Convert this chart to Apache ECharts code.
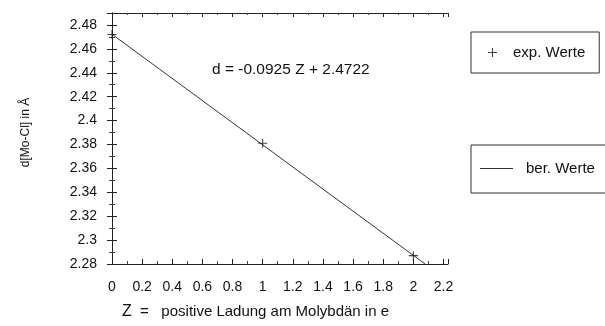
<!DOCTYPE html>
<html>
<head>
<meta charset="utf-8">
<script src="https://cdn.jsdelivr.net/npm/echarts@6/dist/echarts.min.js"></script>
<style>
  html, body { margin: 0; padding: 0; background: #fff; }
  #chart { width: 605px; height: 326px; }
</style>
</head>
<body>
<div id="chart"></div>
<script>
// measured values (Z in e, d in Angstrom)
var expZ = [0, 1, 2];
var expD = [2.472, 2.381, 2.287];
// regression line d = -0.0925 Z + 2.4722, drawn until it meets the bottom axis
var fitZ = [0, 2.078];
var fitD = [2.4722, 2.28];

var font = 'Liberation Sans, Arial, sans-serif';
var plusShape = 'path://M4.4,0 H5.6 V4.4 H10 V5.6 H5.6 V10 H4.4 V5.6 H0 V4.4 H4.4 Z';

function pairs(xs, ys) {
    var out = [];
    for (var i = 0; i < xs.length; i++) out.push([xs[i], ys[i]]);
    return out;
}

var frameAxis = {
    lineStyle: { color: '#222', width: 1 }
};

var chart = echarts.init(document.getElementById('chart'));
var option = {
    animation: false,
    backgroundColor: '#fff',
    textStyle: { fontFamily: font },
    grid: { left: 112, right: 157, top: 13, bottom: 62 },
    legend: [
        {
            data: [{ name: 'exp. Werte', icon: plusShape }],
            left: 471, top: 32,
            padding: [13, 14, 13, 17],
            itemWidth: 9, itemHeight: 9, itemGap: 0,
            borderColor: '#333', borderWidth: 1,
            textStyle: { fontFamily: font, fontSize: 15, color: '#111', padding: [0, 0, 0, 11] }
        },
        {
            data: [{ name: 'ber. Werte', icon: 'rect' }],
            left: 471, top: 145,
            padding: [16, 20, 17, 9],
            itemWidth: 33, itemHeight: 1, itemGap: 0,
            borderColor: '#333', borderWidth: 1,
            textStyle: { fontFamily: font, fontSize: 15, color: '#111', padding: [0, 0, 0, 8] }
        }
    ],
    xAxis: [
        {
            type: 'value', min: 0, max: 2.23, interval: 0.2,
            position: 'bottom',
            axisLine: frameAxis,
            axisTick: { inside: true, length: 5, lineStyle: { color: '#222' } },
            minorTick: { show: true, splitNumber: 2, length: 3, lineStyle: { color: '#444' } },
            splitLine: { show: false },
            axisLabel: { showMaxLabel: false, color: '#111', fontSize: 14, margin: 16, fontFamily: font },
            name: '{z|Z}  =   positive Ladung am Molybdän in e',
            nameLocation: 'start',
            nameGap: 0,
            nameTextStyle: {
                fontFamily: font, fontSize: 15, color: '#111',
                align: 'left', verticalAlign: 'top', padding: [40, 0, 0, 10],
                rich: { z: { fontFamily: font, fontSize: 16, color: '#111' } }
            }
        },
        {
            type: 'value', min: 0, max: 2.23, interval: 0.2,
            position: 'top',
            axisLine: frameAxis,
            axisTick: { inside: true, length: 4, lineStyle: { color: '#222' } },
            minorTick: { show: true, splitNumber: 2, length: 2, lineStyle: { color: '#444' } },
            splitLine: { show: false },
            axisLabel: { show: false }
        }
    ],
    yAxis: [
        {
            type: 'value', min: 2.28, max: 2.49, interval: 0.02,
            position: 'left',
            axisLine: frameAxis,
            axisTick: { inside: true, length: 5, lineStyle: { color: '#222' } },
            minorTick: { show: true, splitNumber: 2, length: 3, lineStyle: { color: '#444' } },
            splitLine: { show: false },
            axisLabel: {
                showMaxLabel: false, color: '#111', fontSize: 14, margin: 15, fontFamily: font,
                formatter: function (v) { return String(Math.round(v * 100) / 100); }
            },
            name: 'd[Mo-Cl] in Å',
            nameLocation: 'middle',
            nameGap: 80,
            nameRotate: 90,
            nameTextStyle: { fontFamily: font, fontSize: 12, color: '#111', padding: [0, 0, 0, 12] }
        },
        {
            type: 'value', min: 2.28, max: 2.49, interval: 0.02,
            position: 'right',
            axisLine: frameAxis,
            axisTick: { inside: true, length: 5, lineStyle: { color: '#222' } },
            minorTick: { show: true, splitNumber: 2, length: 3, lineStyle: { color: '#444' } },
            splitLine: { show: false },
            axisLabel: { show: false }
        }
    ],
    graphic: [
        {
            type: 'text', left: 212, top: 62,
            style: { text: 'd = -0.0925 Z + 2.4722', font: '15.5px ' + font, fill: '#111' }
        }
    ],
    series: [
        {
            name: 'ber. Werte',
            type: 'line',
            data: pairs(fitZ, fitD),
            showSymbol: false,
            symbol: 'none',
            lineStyle: { color: '#333', width: 1 },
            itemStyle: { color: '#333' }
        },
        {
            name: 'exp. Werte',
            type: 'scatter',
            data: pairs(expZ, expD),
            symbol: plusShape,
            symbolSize: 9,
            itemStyle: { color: '#111' },
            z: 5
        }
    ]
};
chart.setOption(option);
</script>
</body>
</html>
